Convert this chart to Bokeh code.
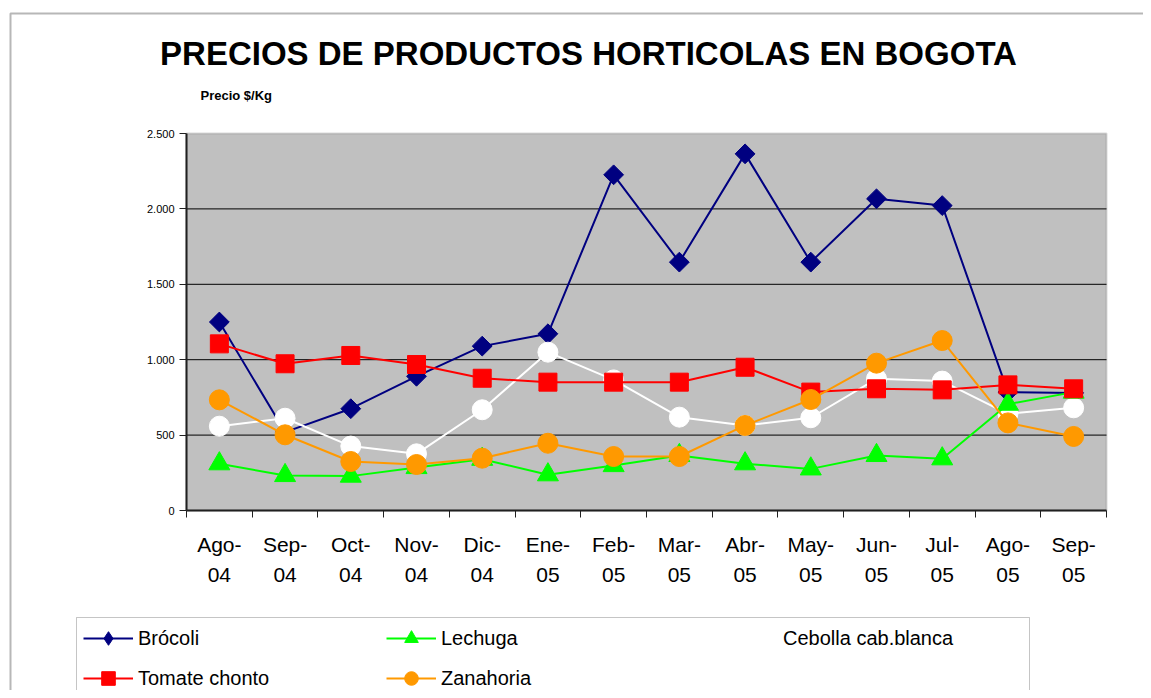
import math
from bokeh.plotting import figure
from bokeh.models import Range1d, FixedTicker, Legend, LegendItem, Label, BoxAnnotation
from bokeh.embed import file_html
from bokeh.resources import INLINE

months = ["Ago-\n04", "Sep-\n04", "Oct-\n04", "Nov-\n04", "Dic-\n04", "Ene-\n05", "Feb-\n05",
          "Mar-\n05", "Abr-\n05", "May-\n05", "Jun-\n05", "Jul-\n05", "Ago-\n05", "Sep-\n05"]
brocoli = [1250, 520, 675, 890, 1090, 1172, 2226, 1647, 2365, 1647, 2067, 2022, 785, 780]
tomate = [1105, 973, 1028, 968, 877, 851, 851, 851, 950, 785, 807, 800, 833, 807]
lechuga = [310, 232, 228, 285, 340, 237, 298, 365, 310, 276, 365, 343, 705, 785]
zanahoria = [734, 502, 325, 305, 347, 446, 358, 358, 564, 736, 977, 1127, 581, 491]
cebolla = [559, 612, 427, 376, 668, 1050, 866, 619, 564, 615, 873, 858, 641, 681]
y_ticks = [0, 500, 1000, 1500, 2000, 2500]
y_tick_labels = ["0", "500", "1.000", "1.500", "2.000", "2.500"]

FONT = "Liberation Sans"
W, H = 1143, 690
# plot-area placement on the canvas (pixels)
PL, PR, PT, PB = 186, 1106, 133, 510
NX = len(months)
YMAX = 2500

x = [i + 0.5 for i in range(NX)]
ux = (PR - PL) / NX
uy = (PB - PT) / YMAX
x_range = Range1d(-PL / ux, (W - PL) / ux)
y_range = Range1d(-(H - PB) / uy, YMAX + PT / uy)

p = figure(width=W, height=H, x_range=x_range, y_range=y_range,
           output_backend="svg", toolbar_location=None, min_border=0,
           background_fill_color="white", border_fill_color="white",
           outline_line_color=None)
p.grid.visible = False


def sy(py):
    return H - py


# plot area background
p.add_layout(BoxAnnotation(left=0, right=NX, bottom=0, top=YMAX, fill_color="#C0C0C0",
                           fill_alpha=1, line_color="#808080", line_width=2, level="underlay"))

# horizontal gridlines
gy = y_ticks[1:-1]
p.segment(x0=[0] * len(gy), x1=[NX] * len(gy), y0=gy, y1=gy, line_color="black", line_width=1)

# axes
xa = p.xaxis[0]
xa.fixed_location = 0
xa.bounds = (0, NX)
xa.ticker = FixedTicker(ticks=x, minor_ticks=list(range(NX + 1)))
xa.major_label_overrides = {xv: m for xv, m in zip(x, months)}
xa.major_tick_out = 0
xa.major_tick_in = 0
xa.minor_tick_out = 7
xa.minor_tick_in = 0
xa.minor_tick_line_color = "#202020"
xa.axis_line_color = "#202020"
xa.axis_line_width = 2
xa.major_label_text_font = FONT
xa.major_label_text_font_size = "21px"
xa.major_label_text_color = "black"
xa.major_label_text_line_height = 1.33
xa.major_label_standoff = 15

ya = p.yaxis[0]
ya.fixed_location = 0
ya.bounds = (0, YMAX)
ya.ticker = FixedTicker(ticks=y_ticks, minor_ticks=[])
ya.major_label_overrides = {t: s for t, s in zip(y_ticks, y_tick_labels)}
ya.major_tick_out = 7
ya.major_tick_in = 0
ya.major_tick_line_color = "#202020"
ya.axis_line_color = "#202020"
ya.axis_line_width = 2
ya.major_label_text_font = FONT
ya.major_label_text_font_size = "11px"
ya.major_label_text_color = "black"
ya.major_label_standoff = 5

# series (draw order as in the reference)
l_b = p.line(x, brocoli, line_color="#000080", line_width=2)
s_b = p.scatter(x, brocoli, marker="square", angle=math.pi / 4, size=14,
                fill_color="#000080", line_color="#000080")
l_c = p.line(x, cebolla, line_color="white", line_width=2)
s_c = p.scatter(x, cebolla, marker="circle", size=20, fill_color="white", line_color="white")
l_l = p.line(x, lechuga, line_color="#00FF00", line_width=2)
s_l = p.scatter(x, lechuga, marker="triangle", size=21, fill_color="#00FF00", line_color="#00FF00")
l_t = p.line(x, tomate, line_color="#FF0000", line_width=2)
s_t = p.scatter(x, tomate, marker="square", size=18, fill_color="#FF0000", line_color="#FF0000")
l_z = p.line(x, zanahoria, line_color="#FF9900", line_width=2)
s_z = p.scatter(x, zanahoria, marker="circle", size=20, fill_color="#FF9900", line_color="#FF9900")

# legend-only diamond (kept off the visible canvas)
d_b = p.scatter([-1000], [-100000], marker="diamond", size=14, fill_color="#000080", line_color="#000080")


def mk_legend(items, loc):
    return Legend(items=items, location=loc, orientation="vertical",
                  glyph_width=50, glyph_height=34, label_height=34, label_standoff=5,
                  spacing=6, padding=0, margin=0, border_line_color=None,
                  background_fill_alpha=0, label_text_font=FONT,
                  label_text_font_size="20px", label_text_color="black")


leg1 = mk_legend([LegendItem(label="Brócoli", renderers=[l_b, d_b]),
                  LegendItem(label="Tomate chonto", renderers=[l_t, s_t])], (83, sy(695)))
leg2 = mk_legend([LegendItem(label="Lechuga", renderers=[l_l, s_l]),
                  LegendItem(label="Zanahoria", renderers=[l_z, s_z])], (386, sy(695)))
leg3 = mk_legend([LegendItem(label="Cebolla cab.blanca", renderers=[l_c, s_c])], (728, sy(655)))
for lg in (leg1, leg2, leg3):
    p.add_layout(lg, "center")

# frames
p.add_layout(BoxAnnotation(left=10, right=3000, top=sy(13), bottom=-1000,
                           left_units="screen", right_units="screen", top_units="screen",
                           bottom_units="screen", fill_color=None, fill_alpha=0,
                           line_color="#111111", line_width=2))
p.add_layout(BoxAnnotation(left=76, right=1029, top=sy(617), bottom=-1000,
                           left_units="screen", right_units="screen", top_units="screen",
                           bottom_units="screen", fill_color=None, fill_alpha=0,
                           line_color="#404040", line_width=1))

# texts
p.add_layout(Label(x=588, y=sy(53), x_units="screen", y_units="screen",
                   text="PRECIOS DE PRODUCTOS HORTICOLAS EN BOGOTA",
                   text_align="center", text_baseline="alphabetic", text_font=FONT,
                   text_font_size="33px", text_font_style="bold", text_color="black"))
p.add_layout(Label(x=200, y=sy(95), x_units="screen", y_units="screen",
                   text="Precio $/Kg", text_align="left", text_baseline="alphabetic",
                   text_font=FONT, text_font_size="13px", text_font_style="bold",
                   text_color="black"))

open("out.html", "w").write(file_html(p, INLINE))
